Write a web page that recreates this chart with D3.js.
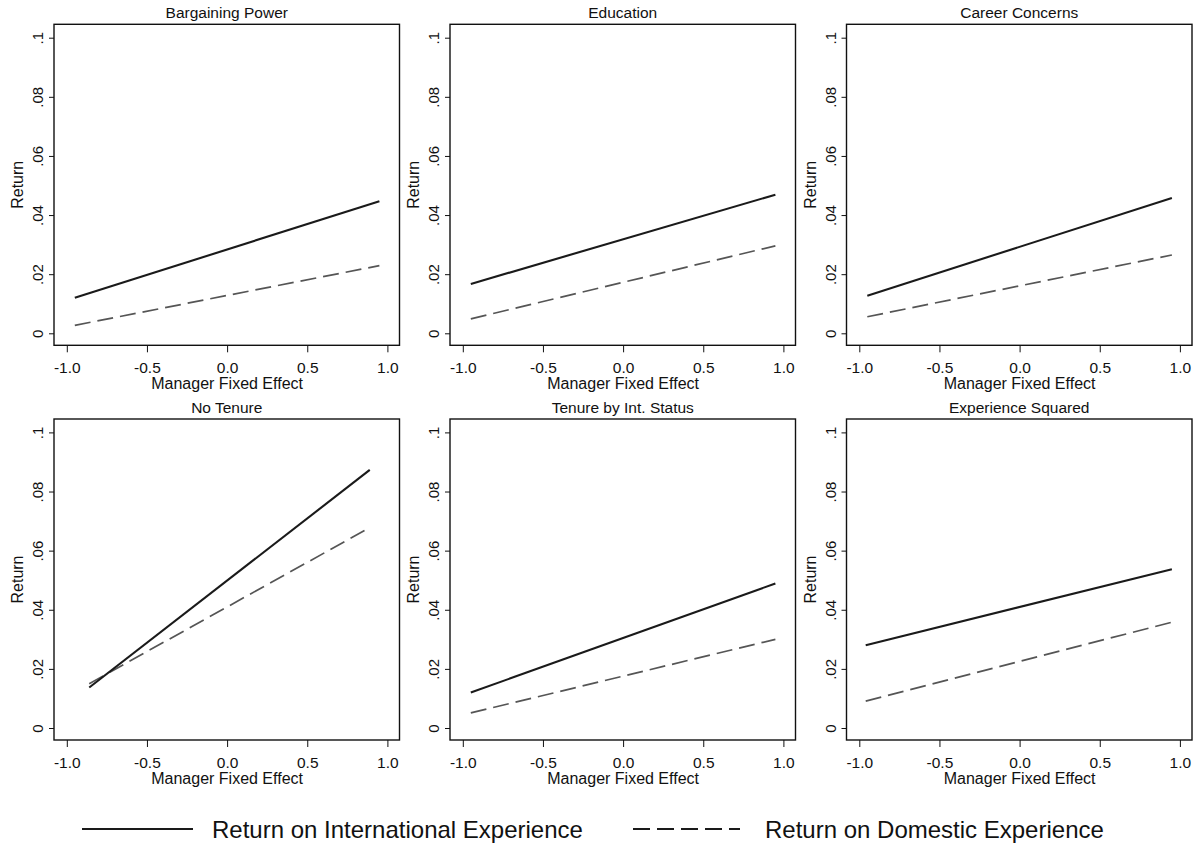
<!DOCTYPE html>
<html>
<head>
<meta charset="utf-8">
<script src="https://cdn.jsdelivr.net/npm/d3@7"></script>
<style>
  html, body { margin: 0; padding: 0; background: #fff; }
  svg { display: block; font-family: "Liberation Sans", Arial, sans-serif; }
</style>
</head>
<body>
<svg id="chart" width="1197" height="844"></svg>
<script>
// ---- Data ----
const panelTitles = ["Bargaining Power", "Education", "Career Concerns",
                     "No Tenure", "Tenure by Int. Status", "Experience Squared"];
// x values (manager fixed effect) at which each line starts / ends
const xStart = [-0.95, -0.95, -0.95, -0.86, -0.95, -0.96];
const xEnd   = [ 0.95,  0.95,  0.95,  0.89,  0.95,  0.95];
// Return on International Experience (start, end)
const intlStart = [0.0120, 0.0167, 0.0127, 0.0137, 0.0120, 0.0280];
const intlEnd   = [0.0447, 0.0469, 0.0458, 0.0873, 0.0489, 0.0537];
// Return on Domestic Experience (start, end)
const domStart  = [0.0027, 0.0049, 0.0056, 0.0150, 0.0051, 0.0091];
const domEnd    = [0.0229, 0.0296, 0.0265, 0.0678, 0.0300, 0.0358];

const xTicks = [-1.0, -0.5, 0.0, 0.5, 1.0];
const yTicks = [0, 0.02, 0.04, 0.06, 0.08, 0.1];
const yTickLabels = ["0", ".02", ".04", ".06", ".08", ".1"];
const xAxisTitle = "Manager Fixed Effect";
const yAxisTitle = "Return";
const seriesNames = ["Return on International Experience", "Return on Domestic Experience"];

// ---- Layout ----
const svg = d3.select("#chart");
const colLeft = [54, 450, 846.5];
const rowTop = [24.3, 419];
const boxW = 345.5, boxH = 321;

const solidColor = "#1a1a1a", dashColor = "#555555";
const dashArr = "16,7";

panelTitles.forEach((title, i) => {
  const left = colLeft[i % 3], top = rowTop[Math.floor(i / 3)];
  const x = d3.scaleLinear().domain([-1, 1]).range([left + 12.8, left + 12.8 + 320.6]);
  const y = d3.scaleLinear().domain([0, 0.1]).range([top + 309, top + 13.4]);
  const g = svg.append("g");

  // title
  g.append("text").attr("x", left + boxW / 2).attr("y", top - 6)
    .attr("text-anchor", "middle").attr("font-size", 15.5).attr("fill", "#111").text(title);

  // x axis
  const xa = g.append("g").attr("transform", `translate(0,${top + boxH})`)
    .call(d3.axisBottom(x).tickValues(xTicks).tickFormat(d3.format(".1f")).tickSize(7).tickSizeOuter(0));
  xa.select(".domain").remove();
  xa.selectAll("line").attr("stroke", "#111");
  xa.selectAll("text").attr("font-size", 15.5).attr("fill", "#111").attr("dy", "0").attr("y", 28)
    .text(d => d3.format(".1f")(d).replace("−", "-"));

  // y axis
  const ya = g.append("g").attr("transform", `translate(${left},0)`)
    .call(d3.axisLeft(y).tickValues(yTicks).tickFormat((d, k) => yTickLabels[k]).tickSize(5).tickSizeOuter(0));
  ya.select(".domain").remove();
  ya.selectAll("line").attr("stroke", "#111");
  ya.selectAll("text").attr("font-size", 15).attr("fill", "#111")
    .attr("x", null).attr("dy", null).attr("text-anchor", "middle")
    .attr("transform", "translate(-11,0) rotate(-90)");

  // axis titles
  g.append("text").attr("x", left + 12.8 + 160.3).attr("y", top + boxH + 44)
    .attr("text-anchor", "middle").attr("font-size", 16).attr("fill", "#111").text(xAxisTitle);
  g.append("text")
    .attr("transform", `translate(${left - 31},${top + boxH / 2}) rotate(-90)`)
    .attr("text-anchor", "middle").attr("font-size", 16).attr("fill", "#111").text(yAxisTitle);

  // lines
  const line = d3.line().x(d => x(d[0])).y(d => y(d[1]));
  g.append("path").datum([[xStart[i], domStart[i]], [xEnd[i], domEnd[i]]])
    .attr("d", line).attr("fill", "none").attr("stroke", dashColor)
    .attr("stroke-width", 1.7).attr("stroke-dasharray", dashArr);
  g.append("path").datum([[xStart[i], intlStart[i]], [xEnd[i], intlEnd[i]]])
    .attr("d", line).attr("fill", "none").attr("stroke", solidColor)
    .attr("stroke-width", 2.1);

  // box
  g.append("rect").attr("x", left).attr("y", top).attr("width", boxW).attr("height", boxH)
    .attr("fill", "none").attr("stroke", "#111").attr("stroke-width", 1.4);
});

// ---- Legend ----
const lg = svg.append("g");
lg.append("line").attr("x1", 82).attr("x2", 193).attr("y1", 829).attr("y2", 829)
  .attr("stroke", solidColor).attr("stroke-width", 2.2);
lg.append("text").attr("x", 212).attr("y", 838).attr("font-size", 24).attr("fill", "#111").text(seriesNames[0]);
lg.append("line").attr("x1", 633).attr("x2", 740).attr("y1", 829).attr("y2", 829)
  .attr("stroke", "#1a1a1a").attr("stroke-width", 2.2).attr("stroke-dasharray", "17,7");
lg.append("text").attr("x", 765).attr("y", 838).attr("font-size", 24).attr("fill", "#111").text(seriesNames[1]);
</script>
</body>
</html>
